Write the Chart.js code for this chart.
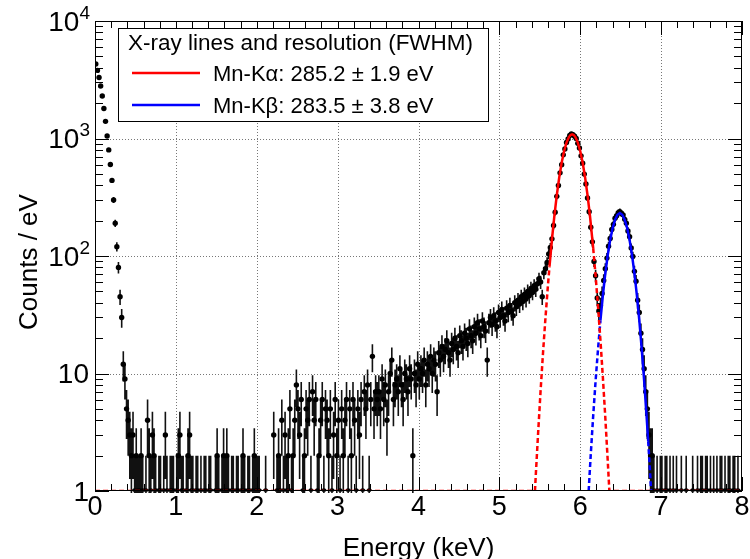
<!DOCTYPE html>
<html lang="en">
<head>
  <meta charset="UTF-8">
  <title>X-ray spectrum</title>
  <script src="https://cdn.jsdelivr.net/npm/chart.js@4.4.0/dist/chart.umd.min.js"></script>
  <style>
    body { margin: 0; background: #fff; }
  </style>
</head>
<body>
  <canvas id="spectrum" width="750" height="559"></canvas>

  <script>
    // histogram: 0.02 keV bins from 0 to 8 keV, counts
    const binWidth = 0.02;
    const countsLow = [4300, 3800, 3300, 2800, 2300, 1800, 1400, 1050, 800, 600,
      440, 300, 190, 120, 80, 45, 30, 12, 9, 5];                       // 0.00 - 0.40
    const countsFlat = [4, 3, 2, 3, 1, 2, 1, 1, 2, 1,
      0, 1, 4, 2, 1, 3, 2, 1, 0, 1,
      1, 0, 1, 3, 1, 0, 1, 1, 1, 0,
      1, 2, 3, 1, 1, 0, 1, 2, 3, 1,
      1, 0, 1, 1, 0, 1, 0, 1, 1, 0,
      1, 1, 0, 0, 1, 2, 1, 0, 1, 2,
      1, 2, 1, 0, 1, 1, 0, 1, 1, 0,
      1, 2, 1, 0, 1, 1, 0, 1, 2, 1,
      1, 1, 0, 0, 0, 1, 0, 0, 0, 0,
      3, 0, 1, 2, 1];                                                     // 0.40 - 2.30
    const countsMid = [4, 1, 3, 1, 2, 5, 1, 2, 4, 8,
      5, 3, 6, 1, 2, 5, 4, 6, 1, 7,
      4, 6, 1, 2, 4, 6, 1, 5, 4, 2,
      5, 1, 3, 6, 2, 4, 1, 5, 2, 4,
      6, 1, 5, 2, 6, 4, 1, 5, 3, 6,
      1, 7, 5, 8, 1, 6, 14, 5, 7, 6];                                     // 2.30 - 3.50
    const countsRise = [7, 5, 9, 6, 8, 4, 7, 10, 13, 6,
      8, 9, 7, 11, 8, 6, 10, 9, 7, 11,
      9, 2, 10, 8, 12,
      9, 11, 10, 13, 8, 12, 11, 14, 10, 13,
      12, 7, 15, 13, 17, 14, 16, 19, 15, 13,
      18, 16, 20, 17, 15, 21, 19, 17, 22, 20,
      18, 24, 21, 19, 25, 22, 27, 24, 21, 28,
      25, 23, 13, 27, 30, 26, 31, 28, 25, 33,
      30, 35, 31, 28, 36, 33, 38, 34, 31, 40,
      37, 42, 39, 45, 41, 47, 43, 50, 46, 53,
      49, 56, 52, 58, 64, 60, 45, 72, 78, 88];                            // 3.50 - 5.60
    const countsPeaks = [104, 118, 140, 182, 236, 322, 398, 510, 598, 726,
      815, 925, 990, 1060, 1095, 1078, 1045, 1002, 912, 830,
      712, 615, 498, 410, 312, 238, 176, 132, 90, 68,
      44, 34, 38, 48, 62, 78, 96, 121, 141, 168,
      186, 210, 220, 234, 238, 230, 224, 205, 190, 163,
      146, 117, 99, 74, 61, 42, 33, 22, 16, 11,
      7, 5, 3, 2, 2, 1, 0, 1, 0, 1];                                      // 5.60 - 7.00
    const countsHigh = [1, 0, 1, 1, 0, 1, 0, 1, 0, 1,
      0, 0, 1, 0, 0, 1, 0, 0, 0, 1,
      0, 0, 1, 0, 1, 1, 0, 1, 1, 0,
      1, 0, 1, 0, 1, 0, 1, 1, 0, 1,
      0, 1, 1, 0, 1, 1, 0, 1, 0, 0];                                      // 7.00 - 8.00

    // Gaussian fits (solid in fit range, dashed outside), keV / counts per eV
    const kaSolidE = [5.62, 5.65, 5.68, 5.71, 5.74, 5.77, 5.80, 5.83, 5.86, 5.88, 5.90, 5.92, 5.94, 5.97, 6.00, 6.03, 6.06, 6.09, 6.12, 6.16];
    const kaSolidY = [81.6, 138, 220, 330, 466, 621, 780, 923, 1029, 1071, 1085, 1071, 1029, 923, 780, 621, 466, 330, 220, 116.5];
    const kaLeftE = [0, 5.44, 5.45, 5.48, 5.51, 5.54, 5.57, 5.60, 5.62];
    const kaLeftY = [1, 1, 1.36, 3.2, 7.2, 15.1, 29.8, 55.7, 81.6];
    const kaRightE = [6.16, 6.19, 6.22, 6.25, 6.28, 6.31, 6.34, 6.36, 8];
    const kaRightY = [116.5, 67.6, 37, 19, 9.2, 4.2, 1.8, 1, 1];

    const kbSolidE = [6.25, 6.28, 6.31, 6.34, 6.37, 6.40, 6.43, 6.46, 6.49, 6.52, 6.55, 6.58, 6.61, 6.64, 6.67, 6.70, 6.73, 6.76, 6.79, 6.82, 6.84];
    const kbSolidY = [28.4, 46.4, 71.1, 102, 137, 172.6, 203, 224.5, 232, 224.5, 203, 172.6, 137, 102, 71.1, 46.4, 28.4, 16.2, 8.7, 4.36, 2.65];
    const kbLeftE = [6.104, 6.13, 6.16, 6.19, 6.22, 6.25];
    const kbLeftY = [1, 2.05, 4.36, 8.7, 16.2, 28.4];
    const kbRightE = [6.84, 6.86, 6.876];
    const kbRightY = [2.65, 1.57, 1];

    const legendTitle = 'X-ray lines and resolution (FWHM)';
    const legendEntries = ['Mn-K\u03b1: 285.2 \u00b1 1.9 eV', 'Mn-K\u03b2: 283.5 \u00b1 3.8 eV'];
    const xTicks = [0, 1, 2, 3, 4, 5, 6, 7, 8];
    const yDecades = [0, 1, 2, 3, 4];

    const counts = [].concat(countsLow, countsFlat, countsMid, countsRise, countsPeaks, countsHigh);
    const points = [];
    counts.forEach((c, i) => {
      if (c > 0) points.push({ x: +(binWidth * (i + 0.5)).toFixed(3), y: c });
    });
    const pairs = (xs, ys) => xs.map((v, i) => ({ x: v, y: ys[i] }));

    const FONT = '"Liberation Sans", Arial, Helvetica, sans-serif';
    const RED = '#ff0000', BLUE = '#0000ff';

    // grid + error bars under the markers
    const underlay = {
      id: 'underlay',
      beforeDatasetsDraw(chart) {
        const { ctx, chartArea: a, scales: { x, y } } = chart;
        ctx.save();
        ctx.strokeStyle = '#777';
        ctx.lineWidth = 1;
        ctx.setLineDash([1, 2]);
        ctx.beginPath();
        for (let k = 1; k < 8; k++) {
          const px = Math.round(x.getPixelForValue(k)) + 0.5;
          ctx.moveTo(px, a.top); ctx.lineTo(px, a.bottom);
        }
        for (let d = 1; d < 4; d++) {
          const py = Math.round(y.getPixelForValue(Math.pow(10, d))) + 0.5;
          ctx.moveTo(a.left, py); ctx.lineTo(a.right, py);
        }
        ctx.stroke();
        ctx.setLineDash([]);

        ctx.beginPath();
        ctx.rect(a.left, a.top, a.right - a.left, a.bottom - a.top + 2);
        ctx.clip();
        ctx.strokeStyle = '#111';
        ctx.lineWidth = 1.6;
        ctx.beginPath();
        points.forEach(p => {
          const err = Math.sqrt(p.y);
          const px = x.getPixelForValue(p.x);
          const lo = p.y - err > 0 ? y.getPixelForValue(p.y - err) : a.bottom + 2;
          ctx.moveTo(px, lo);
          ctx.lineTo(px, y.getPixelForValue(p.y + err));
          const py = y.getPixelForValue(p.y);
          ctx.moveTo(x.getPixelForValue(p.x - binWidth / 2) - 1, py);
          ctx.lineTo(x.getPixelForValue(p.x + binWidth / 2) + 1, py);
        });
        ctx.stroke();
        ctx.restore();
      }
    };

    // frame, ticks, labels, titles and legend
    const overlay = {
      id: 'overlay',
      afterDraw(chart) {
        const { ctx, chartArea: a, scales: { x, y } } = chart;
        ctx.save();
        ctx.strokeStyle = '#000';
        ctx.lineWidth = 1;
        ctx.strokeRect(Math.round(a.left) + 0.5, Math.round(a.top) + 0.5,
          Math.round(a.right - a.left) - 1, Math.round(a.bottom - a.top) - 1);

        ctx.beginPath();
        for (let k = 0; k <= 40; k++) {
          const px = Math.round(x.getPixelForValue(k * 0.2)) + 0.5;
          const len = k % 5 === 0 ? 14 : 7;
          ctx.moveTo(px, a.bottom); ctx.lineTo(px, a.bottom - len);
          ctx.moveTo(px, a.top); ctx.lineTo(px, a.top + len);
        }
        for (let d = 0; d < 4; d++) {
          for (let m = 1; m <= 9; m++) {
            const py = Math.round(y.getPixelForValue(m * Math.pow(10, d))) + 0.5;
            const len = m === 1 ? 14 : 8;
            ctx.moveTo(a.left, py); ctx.lineTo(a.left + len, py);
            ctx.moveTo(a.right, py); ctx.lineTo(a.right - len, py);
          }
        }
        ctx.stroke();

        ctx.fillStyle = '#000';
        ctx.font = '27px ' + FONT;
        ctx.textAlign = 'center';
        ctx.textBaseline = 'alphabetic';
        xTicks.forEach(t => ctx.fillText(String(t), x.getPixelForValue(t), a.bottom + 24));

        const yRight = a.left - 5;
        yDecades.forEach(d => {
          const py = y.getPixelForValue(Math.pow(10, d));
          const base = py + 9.5;
          ctx.textAlign = 'right';
          if (d < 2) {
            ctx.font = '28px ' + FONT;
            ctx.fillText(d === 0 ? '1' : '10', yRight - 1, base);
          } else {
            ctx.font = '19px ' + FONT;
            const sup = String(d);
            const w = ctx.measureText(sup).width;
            ctx.fillText(sup, yRight, base - 12);
            ctx.font = '28px ' + FONT;
            ctx.fillText('10', yRight - w, base);
          }
        });

        ctx.font = '26px ' + FONT;
        ctx.textAlign = 'center';
        ctx.fillText('Energy (keV)', (a.left + a.right) / 2, 556);
        ctx.save();
        ctx.translate(37, (a.top + a.bottom) / 2 + 6);
        ctx.rotate(-Math.PI / 2);
        ctx.fillText('Counts / eV', 0, 0);
        ctx.restore();

        // legend box
        const lx = 118, ly = 28, lw = 370, lh = 93;
        ctx.fillStyle = '#fff';
        ctx.fillRect(lx, ly, lw, lh);
        ctx.strokeStyle = '#000';
        ctx.strokeRect(lx + 0.5, ly + 0.5, lw, lh);
        ctx.fillStyle = '#000';
        ctx.textAlign = 'left';
        ctx.font = '22.5px ' + FONT;
        ctx.fillText(legendTitle, lx + 10, ly + 22);
        ctx.font = '22px ' + FONT;
        [RED, BLUE].forEach((col, i) => {
          const cy = ly + 45 + i * 32;
          ctx.strokeStyle = col;
          ctx.lineWidth = 2.5;
          ctx.beginPath();
          ctx.moveTo(lx + 14, cy); ctx.lineTo(lx + 82, cy);
          ctx.stroke();
          ctx.fillText(legendEntries[i], lx + 95, cy + 8);
        });
        ctx.restore();
      }
    };

    const fitLine = (data, color, dashed) => ({
      type: 'line',
      data: data,
      borderColor: color,
      borderWidth: 2.5,
      borderDash: dashed ? [5, 3] : [],
      pointRadius: 0,
      tension: 0,
      fill: false,
      order: 0
    });

    const chart = new Chart(document.getElementById('spectrum').getContext('2d'), {
      type: 'scatter',
      data: {
        datasets: [
          fitLine(pairs(kaSolidE, kaSolidY), RED, false),
          fitLine(pairs(kaLeftE, kaLeftY), RED, true),
          fitLine(pairs(kaRightE, kaRightY), RED, true),
          fitLine(pairs(kbSolidE, kbSolidY), BLUE, false),
          fitLine(pairs(kbLeftE, kbLeftY), BLUE, true),
          fitLine(pairs(kbRightE, kbRightY), BLUE, true),
          {
            label: 'data',
            data: points,
            showLine: false,
            pointRadius: 2.7,
            pointBackgroundColor: '#000',
            pointBorderWidth: 0,
            order: 1
          }
        ]
      },
      options: {
        responsive: false,
        animation: false,
        layout: { padding: { left: 95, top: 21, right: 8, bottom: 68 } },
        plugins: { legend: { display: false }, tooltip: { enabled: false } },
        scales: {
          x: {
            type: 'linear', min: 0, max: 8,
            ticks: { display: false },
            grid: { display: false },
            border: { display: false },
            afterFit: s => { s.height = 0; }
          },
          y: {
            type: 'logarithmic', min: 1, max: 10000,
            ticks: { display: false },
            grid: { display: false },
            border: { display: false },
            afterFit: s => { s.width = 0; }
          }
        }
      },
      plugins: [underlay, overlay]
    });
  </script>
</body>
</html>
